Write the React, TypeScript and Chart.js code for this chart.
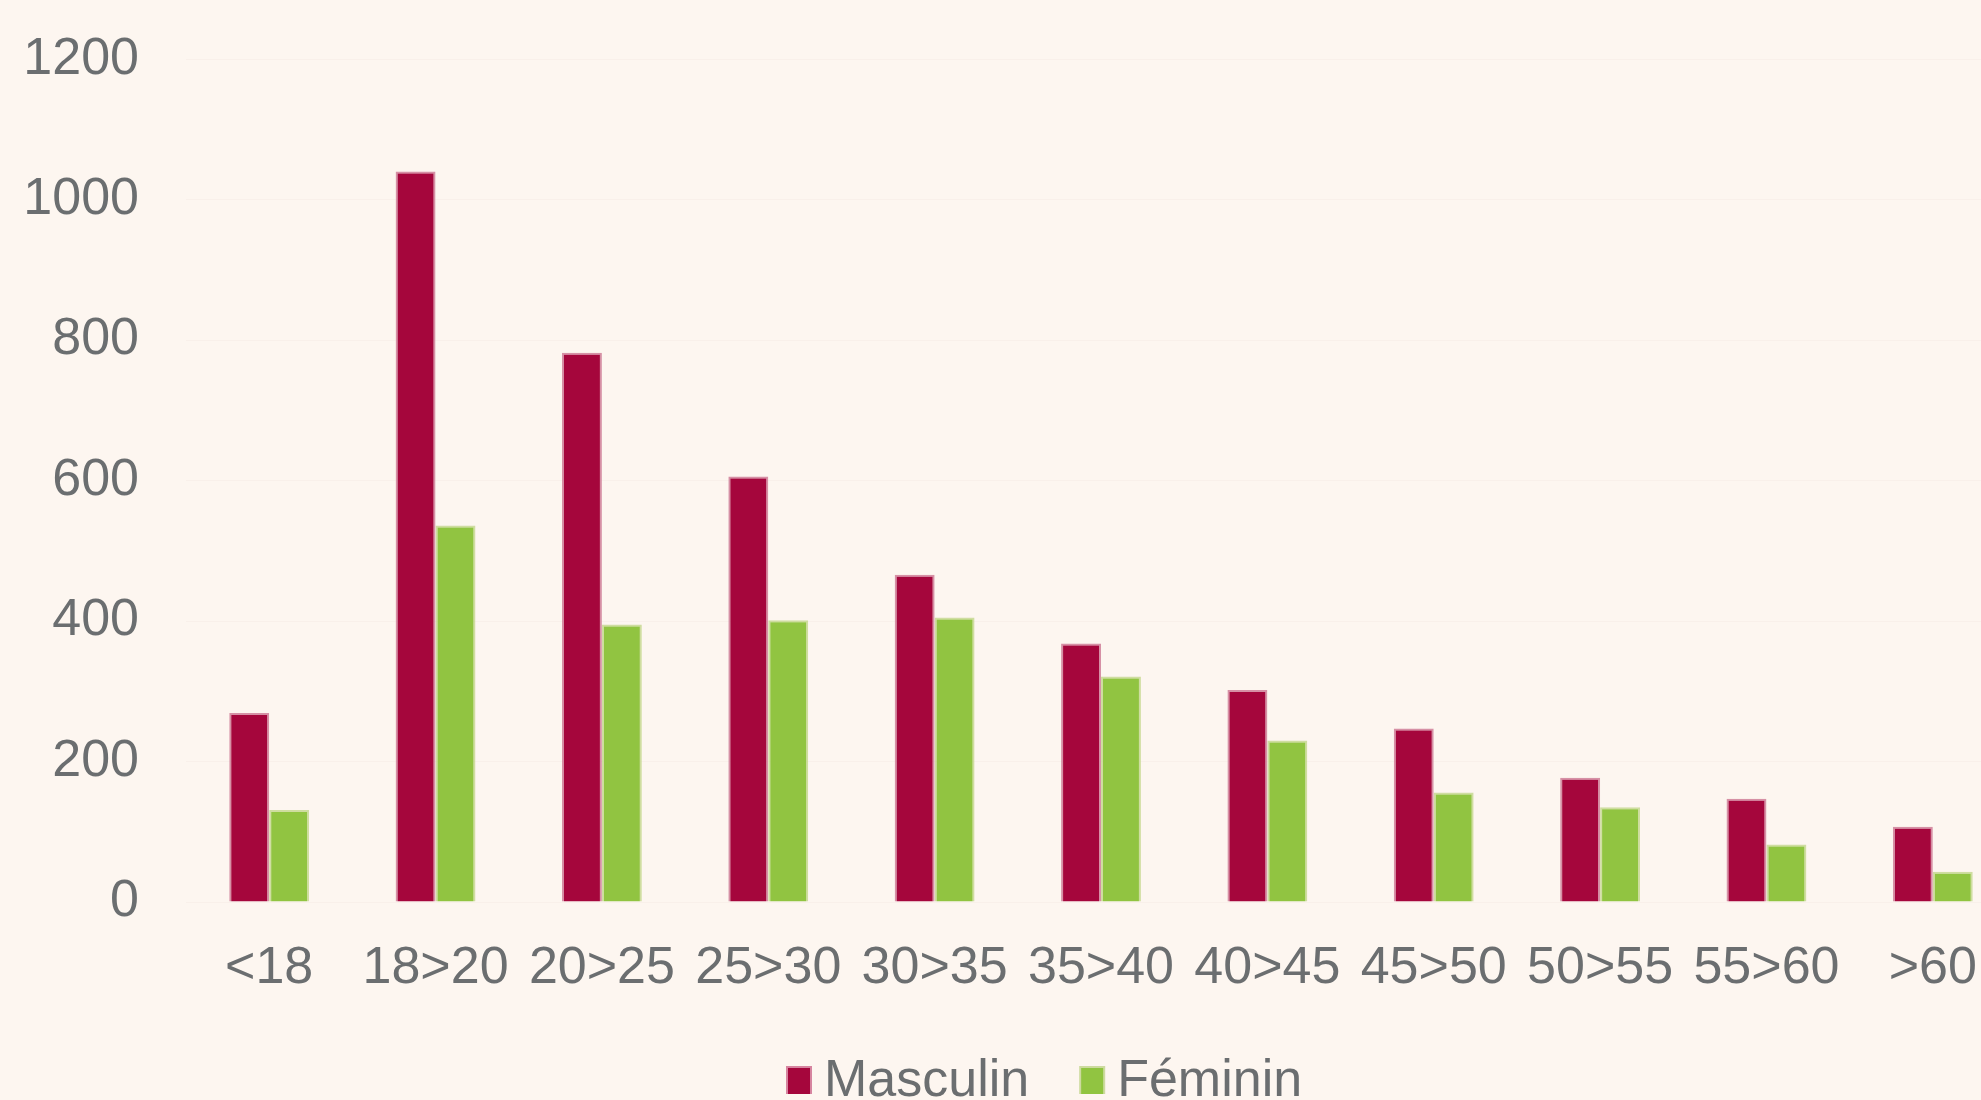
import React, { useEffect, useRef } from "react";
import { Chart, registerables } from "chart.js";

Chart.register(...registerables);

const categories = ["<18", "18>20", "20>25", "25>30", "30>35", "35>40", "40>45", "45>50", "50>55", "55>60", ">60"];
const masculin = [269, 1040, 782, 606, 466, 368, 302, 247, 177, 147, 107];
const feminin = [131, 536, 395, 401, 405, 321, 230, 156, 135, 82, 43];
const seriesNames = ["Masculin", "Féminin"];
const yTicks = { min: 0, max: 1200, step: 200 };

const BG = "#fdf6f0";
const MAROON = "#a5063c";
const GREEN = "#91c441";
const TEXT = "#6b6e70";
const FONT = "'Liberation Sans', Arial, sans-serif";

const legendPlugin = {
  id: "customLegend",
  afterDraw(chart: any) {
    const ctx = chart.ctx;
    const area = chart.chartArea;
    ctx.save();
    ctx.font = `52px ${FONT}`;
    ctx.textBaseline = "middle";
    ctx.textAlign = "left";
    const y = area.bottom + 178;
    let x = area.left + 600;
    const colors = [MAROON, GREEN];
    const borders = ["rgba(210,120,150,0.9)", "rgba(200,215,150,0.9)"];
    seriesNames.forEach((name, i) => {
      ctx.fillStyle = borders[i];
      ctx.fillRect(x, y - 14, 26, 28);
      ctx.fillStyle = colors[i];
      ctx.fillRect(x + 2, y - 12, 22, 26);
      ctx.fillStyle = TEXT;
      ctx.fillText(name, x + 38, y + 2);
      x = x + 38 + ctx.measureText(name).width + 50;
    });
    ctx.restore();
  },
};

export default function App() {
  const ref = useRef<HTMLCanvasElement | null>(null);
  useEffect(() => {
    const canvas = ref.current!;
    const chart = new Chart(canvas, {
      type: "bar",
      data: {
        labels: categories,
        datasets: [
          {
            label: seriesNames[0],
            data: masculin,
            backgroundColor: MAROON,
            borderColor: "rgba(200,110,140,0.75)",
            borderWidth: 2,
            categoryPercentage: 0.48,
            barPercentage: 1,
          },
          {
            label: seriesNames[1],
            data: feminin,
            backgroundColor: GREEN,
            borderColor: "rgba(195,215,140,0.8)",
            borderWidth: 2,
            categoryPercentage: 0.48,
            barPercentage: 1,
          },
        ],
      },
      options: {
        responsive: false,
        animation: false,
        devicePixelRatio: 1,
        layout: { padding: { left: 0, right: 14, top: 38, bottom: 132 } },
        plugins: {
          legend: { display: false },
          tooltip: { enabled: false },
        },
        scales: {
          x: {
            grid: { display: false, drawTicks: false },
            border: { display: false },
            ticks: {
              color: TEXT,
              font: { family: FONT, size: 52 },
              padding: 35,
              maxRotation: 0,
              autoSkip: false,
            },
            afterFit: (scale: any) => {
              scale.height = 96;
            },
          },
          y: {
            min: yTicks.min,
            max: yTicks.max,
            grid: { color: "rgba(150,110,100,0.04)", drawTicks: false },
            border: { display: false },
            ticks: {
              stepSize: yTicks.step,
              color: TEXT,
              font: { family: FONT, size: 52 },
              padding: 47,
              callback: (v: any) => String(v),
            },
            afterFit: (scale: any) => {
              scale.width = 186;
            },
          },
        },
      },
      plugins: [legendPlugin],
    });
    return () => chart.destroy();
  }, []);

  return (
    <div
      style={{
        position: "fixed",
        left: 0,
        top: 0,
        width: "100vw",
        height: "100vh",
        overflow: "hidden",
        background: BG,
      }}
    >
      <canvas
        ref={ref}
        width={2030}
        height={1149}
        style={{ position: "absolute", left: 0, top: -19, width: 2030, height: 1149 }}
      />
    </div>
  );
}
